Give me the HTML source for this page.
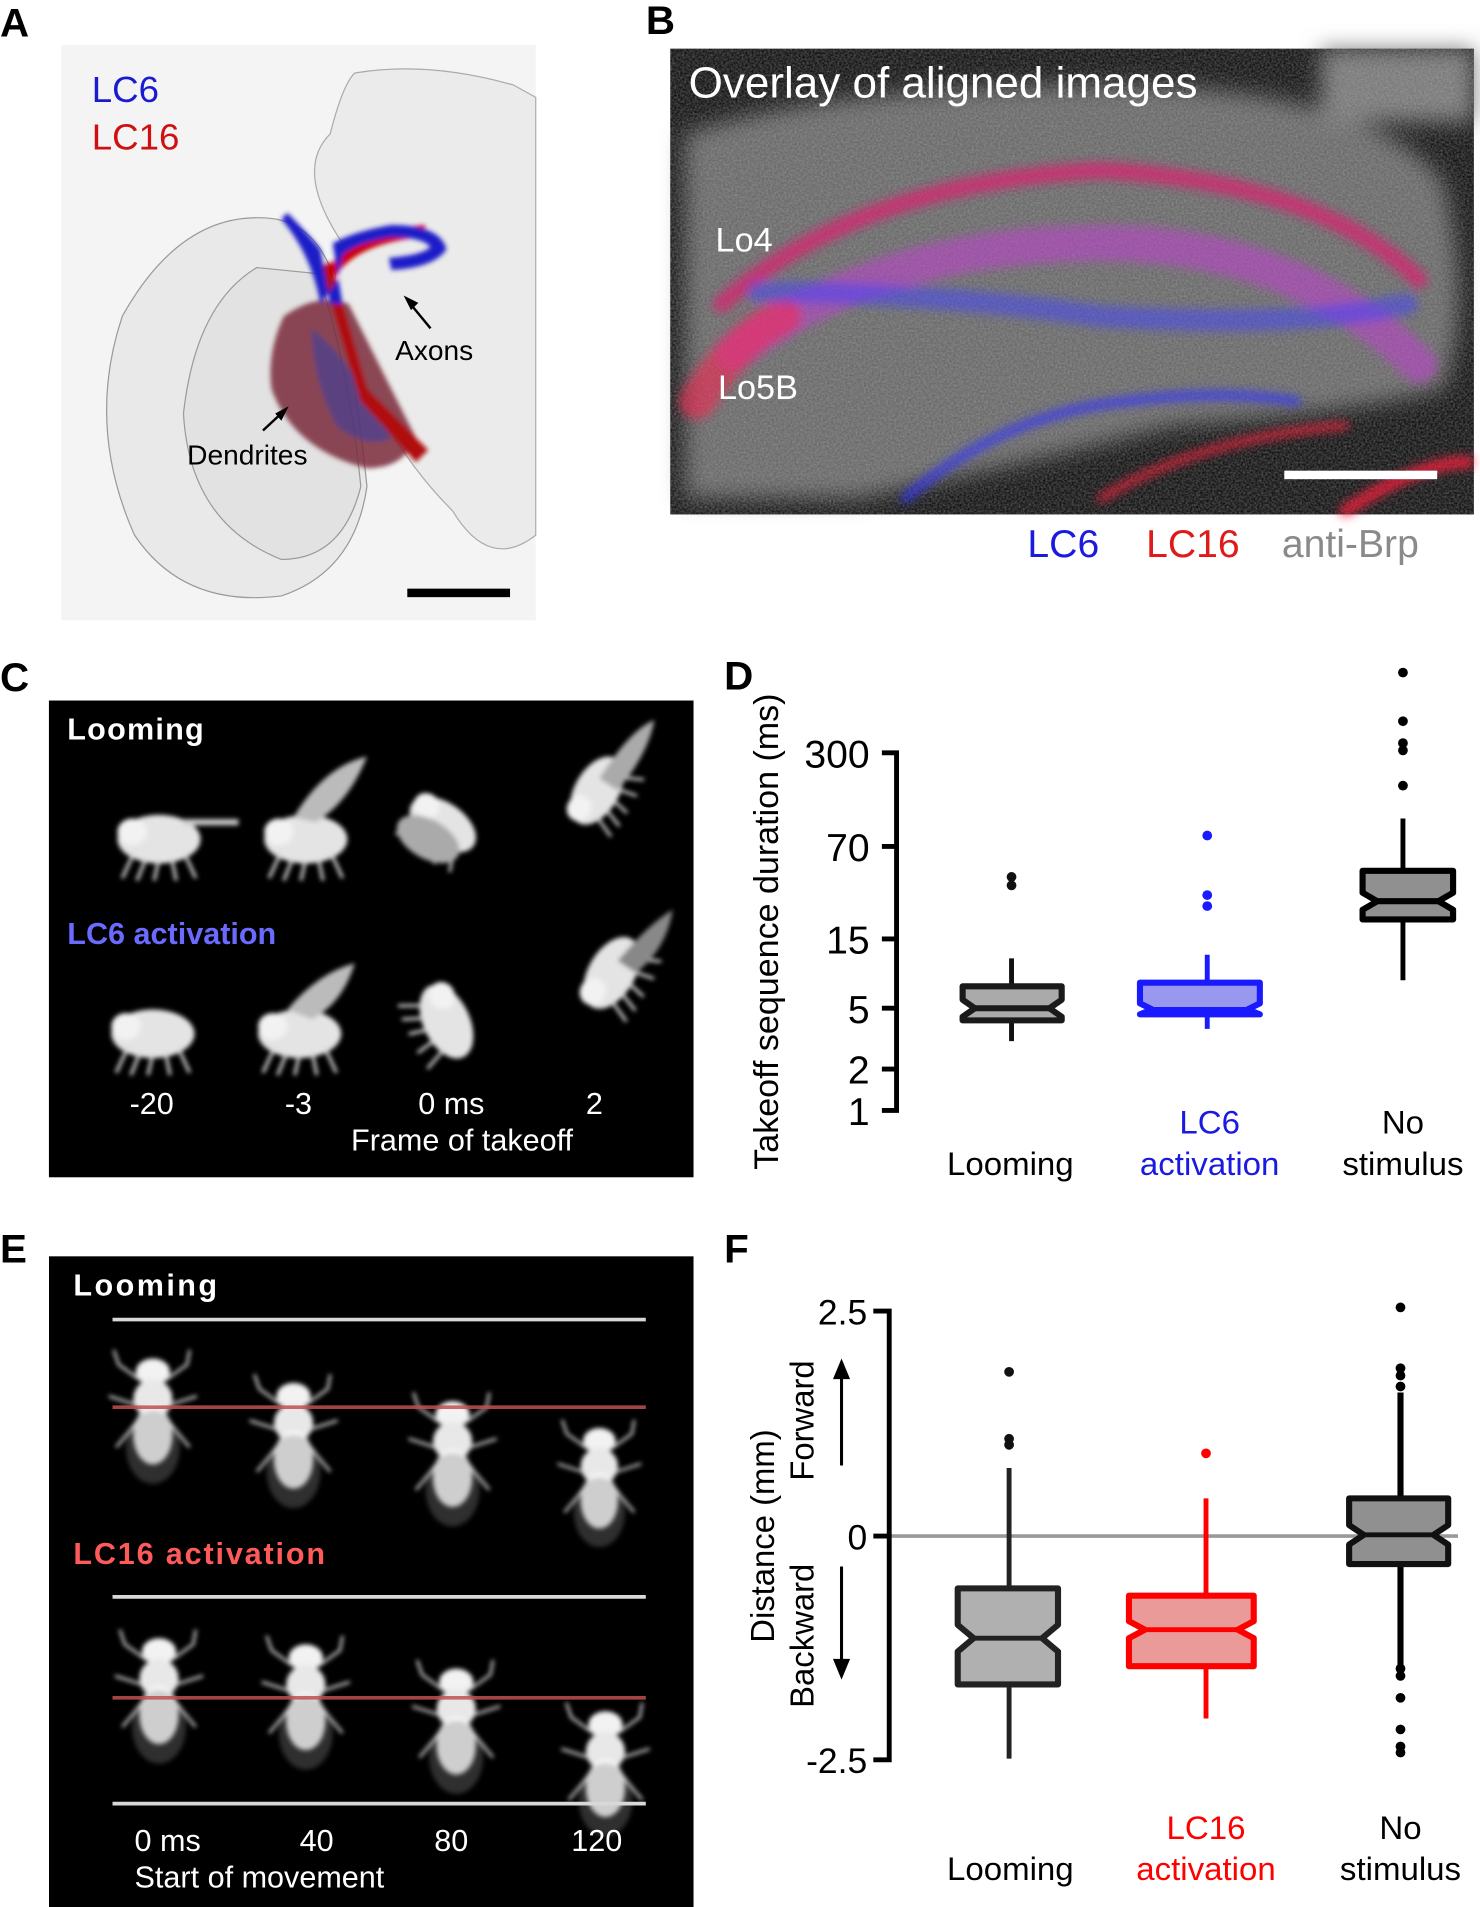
<!DOCTYPE html>
<html><head><meta charset="utf-8"><style>
html,body{margin:0;padding:0;background:#fff;}
svg{display:block;}
text{font-family:"Liberation Sans",Arial,sans-serif;}
</style></head><body>
<svg width="1480" height="1907" viewBox="0 0 1210 1568" preserveAspectRatio="none" xmlns="http://www.w3.org/2000/svg">
<defs>
<filter id="b2"><feGaussianBlur stdDeviation="2"/></filter>
<filter id="b4"><feGaussianBlur stdDeviation="4"/></filter>
<filter id="b8"><feGaussianBlur stdDeviation="9"/></filter>
<filter id="noise" x="0" y="0" width="100%" height="100%">
<feTurbulence type="fractalNoise" baseFrequency="0.6" numOctaves="2" seed="3"/>
<feColorMatrix type="matrix" values="0 0 0 0 0.5  0 0 0 0 0.5  0 0 0 0 0.5  0 0 0 1.2 -0.3"/>
<feComposite in2="SourceGraphic" operator="in"/>
</filter>
<g id="flyside">
<ellipse cx="0" cy="0" rx="34" ry="20" fill="#e4e4e4"/>
<ellipse cx="-22" cy="-6" rx="12" ry="11" fill="#f2f2f2"/>
<g stroke="#ddd" stroke-width="2.5" fill="none">
<path d="M-20 10 L-30 32 M-10 14 L-18 34 M0 16 L-4 34 M10 14 L14 34 M20 10 L30 32"/>
</g>
</g>
<g id="flytop">
<ellipse cx="0" cy="-32" rx="14" ry="11" fill="#f2f2f2"/>
<ellipse cx="0" cy="-10" rx="16" ry="16" fill="#e8e8e8"/>
<ellipse cx="0" cy="20" rx="16" ry="24" fill="#f4f4f4"/>
<ellipse cx="0" cy="30" rx="22" ry="30" fill="#888" opacity="0.35"/>
<g stroke="#ddd" stroke-width="2" fill="none">
<path d="M-10 -25 L-28 -38 L-32 -50 M10 -25 L28 -38 L30 -50 M-14 -5 L-36 -12 M14 -5 L36 -12 M-12 8 L-30 30 M12 8 L30 30"/>
</g>
</g>
</defs>

<g font-weight="bold" font-size="33" fill="#000">
<text x="0" y="30">A</text>
<text x="528" y="28">B</text>
<text x="0" y="568">C</text>
<text x="592" y="567">D</text>
<text x="0" y="1038">E</text>
<text x="592" y="1038">F</text>
</g>

<!-- Panel A -->
<rect x="50" y="37" width="388" height="473" fill="#f4f4f4"/>
<g fill="#e9e9e9" stroke="#9a9a9a" stroke-width="1">
<path d="M290 60 Q350 50 420 70 L438 80 L438 440 Q400 470 370 420 Q330 380 300 320 Q260 260 280 200 Q240 140 270 110 Q280 70 290 60Z" opacity="0.8"/>
<path d="M225 180 Q150 170 100 260 Q70 350 110 440 Q150 500 230 490 Q290 470 300 400 Q290 300 270 220 Q255 185 225 180Z"/>
<path d="M210 220 Q160 250 150 340 Q155 430 230 460 Q280 460 295 400 Q285 300 260 225Z" fill="#e2e2e2"/>
</g>
<g filter="url(#b2)">
<path d="M232 260 Q260 240 285 250 Q320 320 340 360 Q330 385 300 385 Q240 370 222 320 Q218 290 232 260Z" fill="#7a2a3a" opacity="0.85"/>
<path d="M255 270 Q290 300 320 360 Q300 370 275 350 Q255 310 255 270Z" fill="#4040a0" opacity="0.6"/>
<path d="M270 215 L300 320 L350 370 L340 380 L295 330 L262 220Z" fill="#b01010"/>
<path d="M272 230 Q290 200 345 195 L348 185 Q285 190 268 222Z" fill="#c00"/>
<path d="M235 175 Q250 190 262 205 L270 250 L280 250 L272 200 Q290 190 320 185 Q360 185 365 205 Q355 220 320 222 L318 212 Q345 210 352 203 Q345 195 320 195 Q290 200 280 210 L276 230 L262 250 Q255 210 230 180Z" fill="#1a1ac8"/>
</g>
<text x="75" y="84" font-size="30" fill="#1a1ad0">LC6</text>
<text x="75" y="123" font-size="30" fill="#d01010">LC16</text>
<text x="323" y="296" font-size="23" fill="#000">Axons</text>
<text x="153" y="382" font-size="23" fill="#000">Dendrites</text>
<g stroke="#000" stroke-width="2">
<line x1="352" y1="270" x2="334" y2="248"/><line x1="215" y1="354" x2="232" y2="338"/>
</g>
<path d="M330 243 L342 249 L336 255Z M236 334 L230 346 L225 340Z" fill="#000"/>
<rect x="333" y="484" width="84" height="7" fill="#000"/>

<!-- Panel B -->
<rect x="548" y="40" width="657" height="383" fill="#141414"/>
<g filter="url(#b8)">
<path d="M560 110 Q680 70 900 70 Q1120 70 1180 150 Q1205 250 1180 320 Q1100 340 960 350 Q800 390 700 410 L560 410Z" fill="#6a6a6a"/>
<rect x="1080" y="40" width="125" height="60" fill="#7a7a7a"/>
</g>
<rect x="548" y="40" width="657" height="383" fill="#888" filter="url(#noise)" opacity="0.5"/>
<g filter="url(#b4)" fill="none" stroke-linecap="round">
<path d="M590 250 Q700 150 900 140 Q1080 150 1160 230" stroke="#e02070" stroke-width="14" opacity="0.7"/>
<path d="M600 290 Q720 200 900 200 Q1060 200 1160 300" stroke="#c040d0" stroke-width="30" opacity="0.55"/>
<path d="M570 330 Q600 280 640 260" stroke="#ff2050" stroke-width="30" opacity="0.55"/>
<path d="M620 240 Q760 240 900 260 Q1060 270 1150 250" stroke="#4040ff" stroke-width="18" opacity="0.5"/>
<path d="M740 410 Q820 340 920 330 Q1000 320 1060 330" stroke="#3030ff" stroke-width="7" opacity="0.8"/>
<path d="M900 410 Q980 360 1100 350" stroke="#ff2040" stroke-width="6" opacity="0.8"/>
<path d="M1100 420 Q1160 380 1200 380" stroke="#ff2040" stroke-width="10" opacity="0.8"/>
</g>
<text x="563" y="80" font-size="36" fill="#fff">Overlay of aligned images</text>
<text x="585" y="207" font-size="28" fill="#fff">Lo4</text>
<text x="587" y="328" font-size="28" fill="#fff">Lo5B</text>
<rect x="1050" y="387" width="125" height="7" fill="#fff"/>
<text x="840" y="458" font-size="32" fill="#1a1ae0">LC6</text>
<text x="937" y="458" font-size="32" fill="#e01a1a">LC16</text>
<text x="1048" y="458" font-size="32" fill="#8a8a8a">anti-Brp</text>

<!-- Panel C -->
<rect x="40" y="576" width="527" height="392" fill="#000"/>
<g filter="url(#b2)">
<use href="#flyside" transform="translate(130,690)"/>
<line x1="150" y1="676" x2="195" y2="676" stroke="#ccc" stroke-width="5"/>
<use href="#flyside" transform="translate(250,690)"/>
<path d="M240 672 Q265 630 300 622 Q285 660 258 676Z" fill="#bbb"/>
<use href="#flyside" transform="translate(362,678) rotate(35) scale(0.9)"/>
<ellipse cx="350" cy="690" rx="28" ry="16" fill="#aaa" transform="rotate(30 350 690)"/>
<use href="#flyside" transform="translate(488,650) rotate(-60) scale(0.9)"/>
<path d="M490 640 Q515 600 535 592 Q530 620 505 650Z" fill="#aaa"/>
<use href="#flyside" transform="translate(125,850)"/>
<use href="#flyside" transform="translate(245,850)"/>
<path d="M235 830 Q260 800 290 792 Q280 825 255 838Z" fill="#bbb"/>
<use href="#flyside" transform="translate(365,840) rotate(65) scale(0.95)"/>
<use href="#flyside" transform="translate(500,800) rotate(-60) scale(0.95)"/>
<path d="M505 790 Q530 760 550 748 Q545 780 520 800Z" fill="#888"/>
</g>
<text x="55" y="608" font-size="25" font-weight="bold" fill="#fff" letter-spacing="1">Looming</text>
<text x="55" y="776" font-size="25" font-weight="bold" fill="#6a6aff">LC6 activation</text>
<g font-size="25" fill="#fff" text-anchor="middle">
<text x="124" y="916">-20</text><text x="244" y="916">-3</text><text x="369" y="916">0 ms</text><text x="486" y="916">2</text>
</g>
<text x="287" y="946" font-size="25" fill="#fff">Frame of takeoff</text>

<!-- Panel D -->
<g stroke="#000" stroke-width="4" fill="none">
<path d="M721 619 H733 V913 H721"/>
<path d="M721 696 H733 M721 772 H733 M721 829 H733 M721 879 H733"/>
</g>
<g font-size="32" fill="#000" text-anchor="end">
<text x="711" y="631">300</text><text x="711" y="708">70</text><text x="711" y="784">15</text><text x="711" y="841">5</text><text x="711" y="891">2</text><text x="711" y="925">1</text>
</g>
<text transform="translate(636,766) rotate(-90)" font-size="28" text-anchor="middle" fill="#000">Takeoff sequence duration (ms)</text>
<line x1="827" y1="788" x2="827" y2="856" stroke="#111" stroke-width="4"/>
<path d="M787 811 H868 V822 L858 829 L868 836 V839 H787 V836 L797 829 L787 822Z" fill="#aaa" stroke="#1a1a1a" stroke-width="5" stroke-linejoin="round"/>
<line x1="797" y1="829" x2="858" y2="829" stroke="#1a1a1a" stroke-width="5"/>
<circle cx="827" cy="721" r="4" fill="#111"/><circle cx="827" cy="728" r="4" fill="#111"/>
<line x1="987" y1="785" x2="987" y2="846" stroke="#1a1aff" stroke-width="4"/>
<path d="M932 808 H1030 V825 L1020 830 L1030 834 H932 L942 830 L932 825Z" fill="#9898ee" stroke="#1a1aff" stroke-width="5" stroke-linejoin="round"/>
<line x1="942" y1="830" x2="1020" y2="830" stroke="#1a1aff" stroke-width="4"/>
<circle cx="987" cy="687" r="4" fill="#1a1aff"/><circle cx="987" cy="736" r="4" fill="#1a1aff"/><circle cx="987" cy="745" r="4" fill="#1a1aff"/>
<line x1="1147" y1="673" x2="1147" y2="806" stroke="#000" stroke-width="4"/>
<path d="M1114 716 H1188 V734 L1176 741 L1188 748 V756 H1114 V748 L1126 741 L1114 734Z" fill="#909090" stroke="#000" stroke-width="5" stroke-linejoin="round"/>
<line x1="1126" y1="741" x2="1176" y2="741" stroke="#000" stroke-width="5"/>
<g fill="#000"><circle cx="1147" cy="553" r="4"/><circle cx="1147" cy="593" r="4"/><circle cx="1147" cy="611" r="4"/><circle cx="1147" cy="617" r="4"/><circle cx="1147" cy="646" r="4"/></g>
<g font-size="27" text-anchor="middle">
<text x="826" y="966" fill="#000">Looming</text>
<text x="989" y="932" fill="#1a1ae0">LC6</text><text x="989" y="966" fill="#1a1ae0">activation</text>
<text x="1147" y="932" fill="#000">No</text><text x="1147" y="966" fill="#000">stimulus</text>
</g>

<!-- Panel E -->
<rect x="40" y="1033" width="527" height="535" fill="#000"/>
<g filter="url(#b2)">
<use href="#flytop" transform="translate(125,1160)"/>
<use href="#flytop" transform="translate(240,1180)"/>
<use href="#flytop" transform="translate(370,1195)"/>
<use href="#flytop" transform="translate(490,1215) scale(0.95)"/>
<use href="#flytop" transform="translate(130,1390)"/>
<use href="#flytop" transform="translate(250,1395)"/>
<use href="#flytop" transform="translate(373,1415)"/>
<use href="#flytop" transform="translate(495,1450)"/>
</g>
<g stroke="#d8d8d8" stroke-width="3">
<line x1="92" y1="1085" x2="528" y2="1085"/><line x1="92" y1="1313" x2="528" y2="1313"/><line x1="92" y1="1483" x2="528" y2="1483"/>
</g>
<g stroke="#c05050" stroke-width="3" opacity="0.85">
<line x1="92" y1="1157" x2="528" y2="1157"/><line x1="92" y1="1396" x2="528" y2="1396"/>
</g>
<text x="60" y="1065" font-size="25" font-weight="bold" fill="#fff" letter-spacing="2">Looming</text>
<text x="60" y="1286" font-size="25" font-weight="bold" fill="#ff5a5a" letter-spacing="1.5">LC16 activation</text>
<g font-size="25" fill="#fff">
<text x="110" y="1522">0 ms</text><text x="245" y="1522">40</text><text x="355" y="1522">80</text><text x="467" y="1522">120</text>
<text x="110" y="1552">Start of movement</text>
</g>

<!-- Panel F -->
<line x1="727" y1="1263" x2="1192" y2="1263" stroke="#999" stroke-width="3"/>
<g stroke="#000" stroke-width="4" fill="none">
<path d="M714 1078 H727 V1447 H714"/><path d="M714 1263 H727"/>
</g>
<g font-size="29" fill="#000" text-anchor="end">
<text x="709" y="1089">2.5</text><text x="709" y="1274">0</text><text x="709" y="1458">-2.5</text>
</g>
<text transform="translate(633,1263) rotate(-90)" font-size="27" text-anchor="middle" fill="#000">Distance (mm)</text>
<text transform="translate(665,1168) rotate(-90)" font-size="27" text-anchor="middle" fill="#000">Forward</text>
<text transform="translate(665,1345) rotate(-90)" font-size="27" text-anchor="middle" fill="#000">Backward</text>
<g stroke="#000" stroke-width="2.5"><line x1="688" y1="1205" x2="688" y2="1128"/><line x1="688" y1="1288" x2="688" y2="1370"/></g>
<path d="M688 1117 L681 1134 L695 1134Z M688 1381 L681 1364 L695 1364Z" fill="#000"/>
<line x1="825" y1="1207" x2="825" y2="1446" stroke="#222" stroke-width="4"/>
<path d="M783 1306 H865 V1336 L852 1347 L865 1358 V1385 H783 V1358 L796 1347 L783 1336Z" fill="#b0b0b0" stroke="#222" stroke-width="5" stroke-linejoin="round"/>
<line x1="796" y1="1347" x2="852" y2="1347" stroke="#222" stroke-width="4"/>
<g fill="#111"><circle cx="825" cy="1128" r="4"/><circle cx="825" cy="1183" r="4"/><circle cx="825" cy="1188" r="4"/></g>
<line x1="986" y1="1232" x2="986" y2="1413" stroke="#f00" stroke-width="4"/>
<path d="M923 1312 H1025 V1333 L1012 1340 L1025 1347 V1370 H923 V1347 L936 1340 L923 1333Z" fill="#eb9a9a" stroke="#f00" stroke-width="5" stroke-linejoin="round"/>
<line x1="936" y1="1340" x2="1012" y2="1340" stroke="#f00" stroke-width="4"/>
<circle cx="986" cy="1195" r="4" fill="#f00"/>
<line x1="1145" y1="1145" x2="1145" y2="1372" stroke="#000" stroke-width="5"/>
<path d="M1103 1232 H1184 V1254 L1172 1262 L1184 1270 V1286 H1103 V1270 L1115 1262 L1103 1254Z" fill="#909090" stroke="#111" stroke-width="5" stroke-linejoin="round"/>
<line x1="1115" y1="1262" x2="1172" y2="1262" stroke="#111" stroke-width="4"/>
<g fill="#000"><circle cx="1145" cy="1075" r="4"/><circle cx="1145" cy="1125" r="4"/><circle cx="1145" cy="1131" r="4"/><circle cx="1145" cy="1140" r="4"/><circle cx="1145" cy="1372" r="4"/><circle cx="1145" cy="1378" r="4"/><circle cx="1145" cy="1396" r="4"/><circle cx="1145" cy="1422" r="4"/><circle cx="1145" cy="1436" r="4"/><circle cx="1145" cy="1441" r="4"/></g>
<g font-size="27" text-anchor="middle">
<text x="826" y="1546" fill="#000">Looming</text>
<text x="986" y="1512" fill="#f00">LC16</text><text x="986" y="1546" fill="#f00">activation</text>
<text x="1145" y="1512" fill="#000">No</text><text x="1145" y="1546" fill="#000">stimulus</text>
</g>
</svg>
</body></html>
